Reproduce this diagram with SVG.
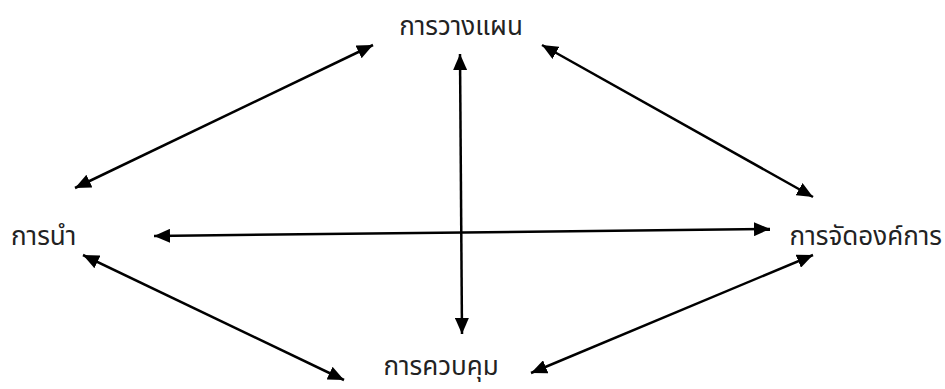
<svg xmlns="http://www.w3.org/2000/svg" width="945" height="389" viewBox="0 0 945 389">
<defs>
<marker id="ah" viewBox="0 0 16 14" refX="16" refY="7" markerWidth="16" markerHeight="14" markerUnits="userSpaceOnUse" orient="auto-start-reverse">
<path d="M0,0 L16,7 L0,14 Z" fill="#000"/>
</marker>
<style>
.lbl{font-family:"Noto Sans Thai","Noto Sans","DejaVu Sans",sans-serif;font-size:26px;fill:#222}
.c{stroke:#000;stroke-width:2.5;fill:none;marker-start:url(#ah);marker-end:url(#ah)}
</style>
</defs>
<rect width="945" height="389" fill="#fff"/>
<g id="connectors">
<line class="c" x1="75" y1="188" x2="373" y2="45"/>
<line class="c" x1="542" y1="45" x2="813" y2="197"/>
<line class="c" x1="460" y1="54" x2="462" y2="334"/>
<line class="c" x1="154" y1="236" x2="770" y2="229"/>
<line class="c" x1="83" y1="255" x2="344" y2="380"/>
<line class="c" x1="813" y1="255" x2="531" y2="373"/>
</g>
<g id="planning"><text class="lbl" x="461" y="35" text-anchor="middle">การวางแผน</text></g>
<g id="leading"><text class="lbl" x="11" y="245">การนำ</text></g>
<g id="organizing"><text class="lbl" x="942" y="245" text-anchor="end">การจัดองค์การ</text></g>
<g id="controlling"><text class="lbl" x="441" y="375" text-anchor="middle">การควบคุม</text></g>
</svg>
